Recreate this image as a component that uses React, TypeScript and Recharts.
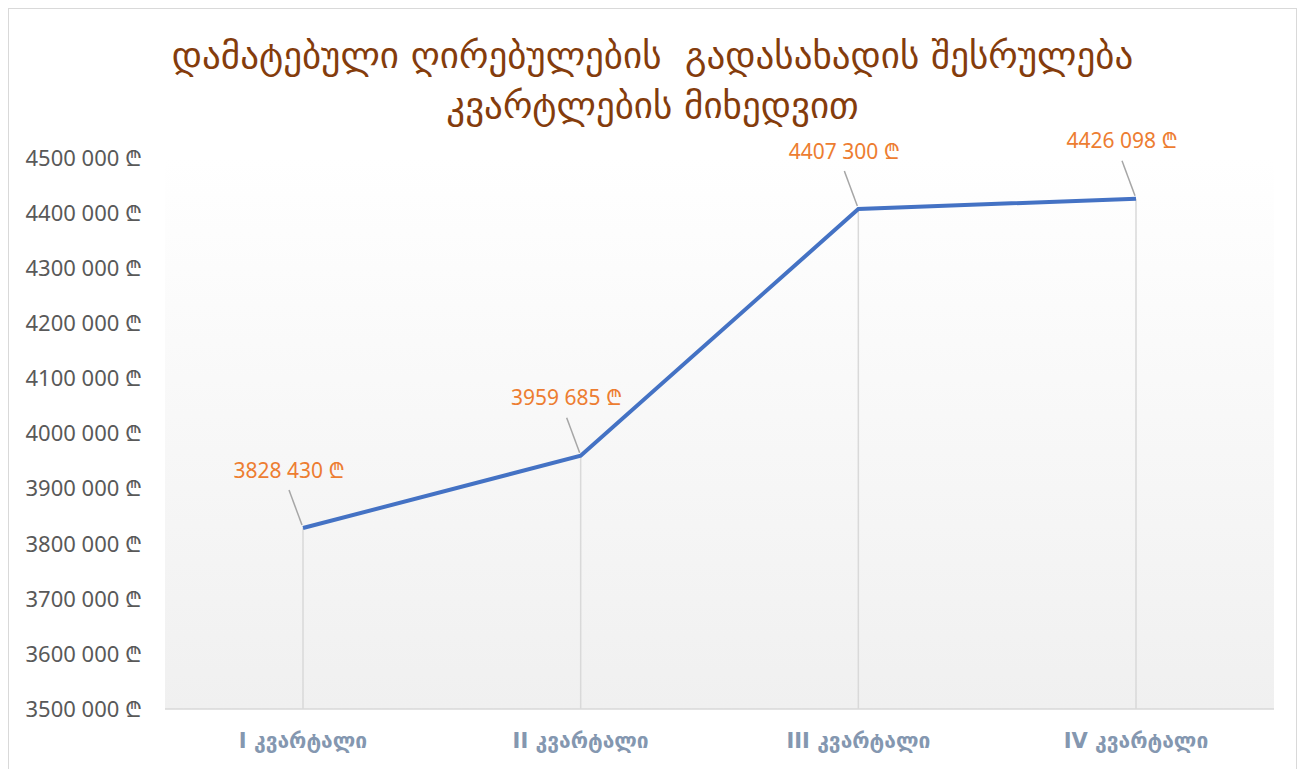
import React from 'react';
import { LineChart, Line, XAxis, YAxis, CartesianGrid, ReferenceLine, LabelList } from 'recharts';

const quarters = ['I კვარტალი', 'II კვარტალი', 'III კვარტალი', 'IV კვარტალი'];
const payments = [3828430, 3959685, 4407300, 4426098];
const yTicks = [3500000, 3600000, 3700000, 3800000, 3900000, 4000000, 4100000, 4200000, 4300000, 4400000, 4500000];
const titleLines = ['დამატებული ღირებულების  გადასახადის შესრულება', 'კვარტლების მიხედვით'];

const data = quarters.map((q, i) => ({ name: q, value: payments[i] }));

const fmt = (v: number) => {
  const s = String(Math.round(v));
  return `${s.slice(0, s.length - 3)} ${s.slice(-3)} ₾`;
};

const DataLabel = (props: any) => {
  const { x, y, value } = props;
  return (
    <g>
      <line x1={x - 14} y1={y - 38} x2={x - 1} y2={y - 3} stroke="#a6a6a6" strokeWidth={1.5} />
      <text
        x={x - 14}
        y={y - 56}
        textAnchor="middle"
        dominantBaseline="middle"
        fill="#ed7d31"
        fontSize={21}
        fontFamily="Noto Sans, DejaVu Sans, sans-serif"
      >
        {fmt(value)}
      </text>
    </g>
  );
};

export default function App() {
  return (
    <div
      style={{
        position: 'relative',
        width: 1287,
        height: 770,
        border: '1px solid #d9d9d9',
        background: '#fff',
        overflow: 'hidden',
      }}
    >
      <svg width={0} height={0} style={{ position: 'absolute' }}>
        <defs>
          <linearGradient id="plotBg" x1="0" y1="0" x2="0" y2="1">
            <stop offset="0%" stopColor="#ffffff" />
            <stop offset="100%" stopColor="#f0f0f0" />
          </linearGradient>
        </defs>
      </svg>
      <div
        style={{
          position: 'absolute',
          left: 0,
          top: 22,
          width: '100%',
          textAlign: 'center',
          color: '#843c0c',
          fontFamily: 'DejaVu Sans, sans-serif',
          fontSize: 37,
          lineHeight: '50px',
          whiteSpace: 'pre',
        }}
      >
        {titleLines.map((t) => (
          <div key={t}>{t}</div>
        ))}
      </div>
      <LineChart width={1287} height={760} data={data} margin={{ top: 149, right: 22, left: 10, bottom: 20 }}>
        <CartesianGrid horizontal={false} vertical={false} fill="url(#plotBg)" />
        <XAxis
          dataKey="name"
          padding={{ left: 138, right: 138 }}
          axisLine={{ stroke: '#d9d9d9', strokeWidth: 1.5 }}
          tickLine={false}
          tickSize={0}
          tickMargin={24}
          height={40}
          tick={{ fill: '#8497b0', fontSize: 21, fontWeight: 'bold', fontFamily: 'DejaVu Sans, sans-serif' }}
        />
        <YAxis
          domain={[3500000, 4500000]}
          ticks={yTicks}
          tickFormatter={fmt}
          axisLine={false}
          tickLine={false}
          tickSize={0}
          tickMargin={23}
          width={146}
          tick={{ fill: '#595959', fontSize: 22, fontFamily: 'Noto Sans, DejaVu Sans, sans-serif' }}
        />
        {data.map((d) => (
          <ReferenceLine
            key={d.name}
            segment={[
              { x: d.name, y: 3500000 },
              { x: d.name, y: d.value },
            ]}
            stroke="#d9d9d9"
            strokeWidth={1.5}
          />
        ))}
        <Line
          type="linear"
          dataKey="value"
          stroke="#4472c4"
          strokeWidth={4}
          dot={false}
          isAnimationActive={false}
        >
          <LabelList dataKey="value" content={<DataLabel />} />
        </Line>
      </LineChart>
    </div>
  );
}
